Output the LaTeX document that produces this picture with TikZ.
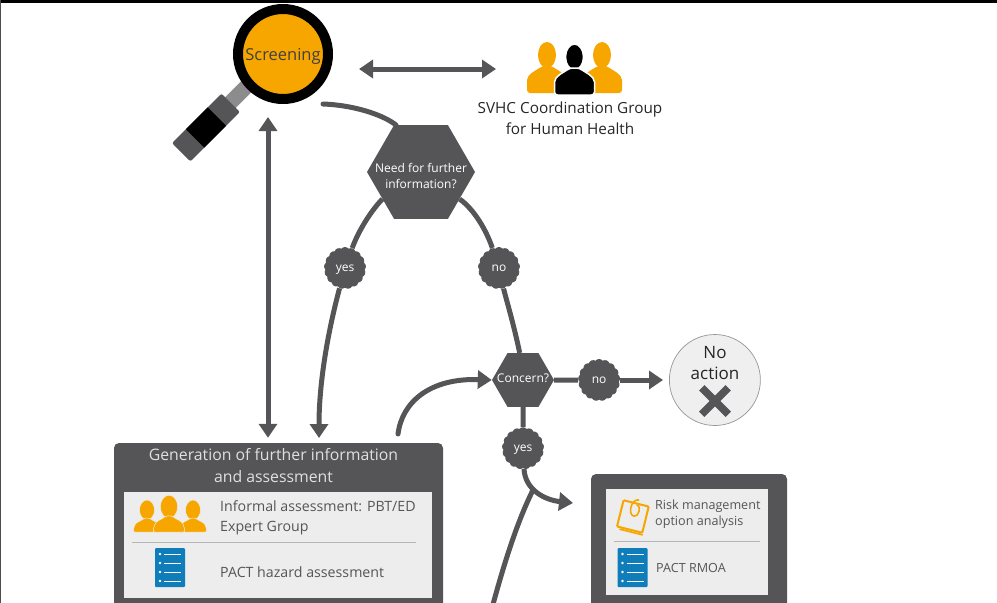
\documentclass[tikz,border=0pt]{standalone}
\usepackage{fontspec}
\setmainfont{Open Sans}
\usetikzlibrary{positioning}
\usetikzlibrary{arrows.meta}
\usetikzlibrary{shapes.geometric}
\usetikzlibrary{shapes.misc}
\usetikzlibrary{shapes.symbols}
\usetikzlibrary{backgrounds}
\definecolor{figGris}{RGB}{85,85,87}
\definecolor{figGrisMedio}{RGB}{140,140,140}
\definecolor{figPanel}{RGB}{237,237,237}
\definecolor{figBorde}{RGB}{150,150,150}
\definecolor{figNaranja}{RGB}{247,166,0}
\definecolor{figAzul}{RGB}{15,125,185}
\tikzset{
  hexag/.style={
    regular polygon, regular polygon sides=6, fill=figGris, text=white,
    align=center, inner sep=-14pt, font=\fontsize{12}{16.5}\selectfont
  },
  burbuja/.style={
    cloud, cloud puffs=17, cloud puff arc=100, aspect=1, fill=figGris,
    text=white, inner sep=0pt, minimum size=42pt, text depth=0pt,
    font=\fontsize{12}{14}\selectfont
  },
  caja/.style={
    rectangle, rounded corners=5pt, fill=figGris, inner sep=0pt
  },
  panel/.style={rectangle, fill=figPanel, inner sep=0pt},
  texto/.style={
    align=left, anchor=west, inner sep=0pt, text=figGris,
    font=\fontsize{14.2}{20}\selectfont
  },
  textop/.style={
    align=left, anchor=west, inner sep=0pt, text=figGris,
    font=\fontsize{12.6}{16.5}\selectfont
  },
  flecha/.style={
    -{Triangle[length=14pt,width=18pt]}, line width=5pt, draw=figGris
  },
  flechad/.style={
    {Triangle[length=14pt,width=18pt]}-{Triangle[length=14pt,width=18pt]},
    line width=5pt, draw=figGris
  },
  linea/.style={line width=5pt, draw=figGris},
  sepa/.style={line width=0.5pt, draw=figBorde!70},
  pics/persona/.style={code={
    \path[pic actions] (0,-38) ellipse (9 and 13);
    \path[pic actions, rounded corners=3pt] (-20,0) -- (-20,-10)
      .. controls (-20,-19) and (-10,-23) .. (-5,-27) -- (5,-27)
      .. controls (10,-23) and (20,-19) .. (20,-10) -- (20,0) -- cycle;
  }},
  pics/personita/.style={code={
    \path[pic actions] (0,-22) ellipse (7.5 and 10);
    \path[pic actions, rounded corners=2pt] (-14,0) -- (-13,-5)
      .. controls (-11,-10) and (-6,-11) .. (-3,-14) -- (3,-14)
      .. controls (6,-11) and (11,-10) .. (13,-5) -- (14,0) -- cycle;
  }},
  pics/lista/.style={code={
    \fill[figAzul, rounded corners=1pt] (-15,-19.5) rectangle (15,19.5);
    \foreach \fila in {-13.5,-4.5,4.5,13.5} {
      \fill[white] (-10,\fila) circle (1.3);
      \draw[white, line width=0.9pt] (-6,\fila) -- (11,\fila);
    }
  }}
}
\begin{document}
\begin{tikzpicture}[x=1pt, y=-1pt]
  \useasboundingbox (0,0) rectangle (997,603);
  \clip (0,0) rectangle (997,603);
  \fill[black] (0,0) rectangle (997,3);
  \fill[black!70] (0,0) rectangle (1,603);

  % lupa
  \node[rectangle, fill=figGrisMedio, minimum width=30pt, minimum height=15pt,
    inner sep=0pt, rotate=45] (cuello) at (240,93) {};
  \node[rectangle, rounded corners=2pt, fill=figGris, minimum width=70pt,
    minimum height=26pt, inner sep=0pt, rotate=45] (mango) at (206,127.5) {};
  \node[rectangle, fill=black, minimum width=31pt, minimum height=26pt,
    inner sep=0pt, rotate=45] (banda) at (206,127.5) {};
  \node[circle, draw=black, line width=10pt, fill=figNaranja, minimum size=90pt,
    inner sep=0pt, text=black!75, text depth=0pt, font=\fontsize{16.5}{20}\selectfont] (lupa)
    at (283,54) {Screening};

  % grupo superior
  \pic[fill=figNaranja] at (547,93) {persona};
  \pic[fill=figNaranja] at (602,93) {persona};
  \pic[fill=black, draw=white, line width=1.5pt] at (574.5,95) {persona};
  \node[align=center, inner sep=0pt, text=black!85,
    font=\fontsize{15.3}{21}\selectfont] (grupo) at (570,118)
    {SVHC Coordination Group\\for Human Health};

  % decisiones
  \node[hexag, minimum size=108pt] (need) at (421,172) {};
  \node[align=center, inner sep=0pt, text=white,
    font=\fontsize{12}{16.5}\selectfont] (needTxt) at (421,176)
    {Need for further\\information?};
  \node[hexag, minimum size=62pt, text depth=3pt] (concern) at (523,380) {Concern?};
  \node[burbuja] (bsi) at (345,268) {yes};
  \node[burbuja] (bno) at (499,268) {no};
  \node[burbuja, right=24pt of concern] (bno2) {no};
  \node[burbuja, below=20pt of concern] (bsi2) {yes};
  \node[circle, draw=figBorde, line width=0.7pt, fill=figPanel!90, minimum size=91pt,
    inner sep=0pt, right=49pt of bno2] (noaccion) {};
  \node[align=center, inner sep=0pt, text=black!85,
    font=\fontsize{17}{21}\selectfont] (noaccionTxt) at (715,363) {No\\action};
  \node[cross out, draw=figGris, line width=7.5pt, minimum size=19pt, inner sep=0pt]
    (cruz) at (715,401) {};

  % caja izquierda
  \node[caja, minimum width=329pt, minimum height=180pt] (gen) at (278.5,533) {};
  \node[panel, minimum width=308pt, minimum height=106pt] (panelGen) at (278,545) {};
  \node[align=center, inner sep=0pt, text=white!88!black,
    font=\fontsize{15.8}{22}\selectfont] (genTxt) at (273.5,466)
    {Generation of further information\\and assessment};
  \pic[fill=figNaranja, draw=figPanel, line width=0.5pt] at (147,532) {personita};
  \pic[fill=figNaranja, draw=figPanel, line width=0.5pt] at (193,532) {personita};
  \pic[fill=figNaranja, draw=figPanel, line width=0.5pt, scale=1.15] at (169,532) {personita};
  \node[texto] (informal) at (220,518) {Informal assessment: PBT/ED\\Expert Group};
  \draw[sepa] (132,542) -- (416,542);
  \pic at (170,567.5) {lista};
  \node[texto] (hazard) at (220,572) {PACT hazard assessment};

  % caja derecha
  \node[caja, minimum width=196pt, minimum height=150pt] (rmoa) at (689,549) {};
  \node[panel, minimum width=162pt, minimum height=106pt] (panelRmoa) at (687,542) {};
  \begin{scope}[shift={(633,516)}, rotate=-14]
    \draw[figNaranja, line width=2pt, rounded corners=1pt] (-13,-13) rectangle (13,14);
    \draw[figNaranja, line width=1.6pt] (-10,16) -- (14,16);
    \draw[figNaranja, line width=1.6pt] (2,-17) .. controls (-6,-17) and (-6,0) .. (1,0)
      .. controls (6,0) and (6,-12) .. (1,-12);
  \end{scope}
  \node[textop] (riesgo) at (655,514) {Risk management\\option analysis};
  \draw[sepa] (614,541) -- (760,541);
  \pic at (632.5,567.5) {lista};
  \node[textop] (pactRmoa) at (656,568) {PACT RMOA};

  % extremos libres
  \coordinate (lupaDer) at (359,69);
  \coordinate (grupoIzq) at (496,69);
  \coordinate (lupaAbajo) at (268,117);
  \coordinate (lupaSale) at (323,104);
  \coordinate (genSale) at (398,434);
  \coordinate (rmoaEntra) at (573,503);
  \coordinate (union) at (533,490);
  \coordinate (abajo) at (492,608);

  \begin{scope}[on background layer]
    \draw[flechad] (lupaDer) -- (grupoIzq);
    \draw[flechad, shorten >=5pt] (lupaAbajo) -- (lupaAbajo |- gen.north);
    \draw[linea, line cap=round] (lupaSale) .. controls (352,105) and (382,114) .. (need.118);
    \draw[linea] (need.215) .. controls (370,212) and (358,232) .. (bsi);
    \draw[flecha, shorten >=5pt] (bsi) .. controls (327,335) and (319,385) .. (319,443);
    \draw[linea] (need.-35) .. controls (475,210) and (487,232) .. (bno);
    \draw[linea] (bno) .. controls (505,295) and (514,325) .. (concern.97);
    \draw[flecha, line cap=round] (genSale) .. controls (402,402) and (430,378) .. (concern.west);
    \draw[linea] (concern) -- (bno2);
    \draw[flecha, shorten >=6pt] (bno2) -- (noaccion.west);
    \draw[linea] (concern) -- (bsi2);
    \draw[flecha] (bsi2) .. controls (525,490) and (545,500) .. (rmoaEntra);
    \draw[linea] (abajo) .. controls (505,560) and (518,520) .. (union);
  \end{scope}
\end{tikzpicture}
\end{document}
